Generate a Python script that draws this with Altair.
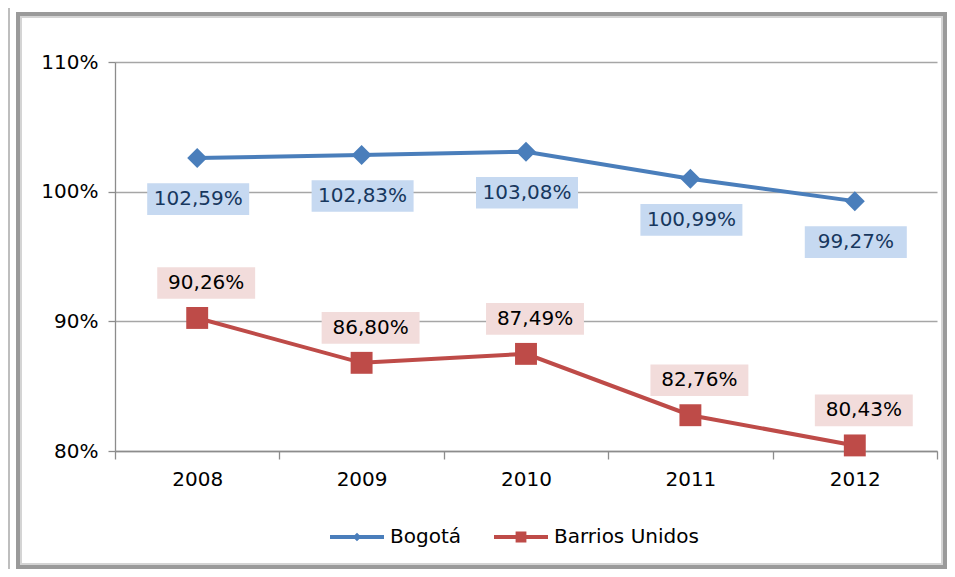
import altair as alt
import pandas as pd

# ---- data ----
years = ["2008", "2009", "2010", "2011", "2012"]
bogota = [102.59, 102.83, 103.08, 100.99, 99.27]
barrios = [90.26, 86.80, 87.49, 82.76, 80.43]
series_names = ["Bogotá", "Barrios Unidos"]
y_ticks = [80, 90, 100, 110]

rows = []
for name, vals in zip(series_names, [bogota, barrios]):
    for yr, v in zip(years, vals):
        rows.append({"year": yr, "series": name, "value": v})
df = pd.DataFrame(rows)

FONT = "DejaVu Sans"
FS = 20
BLUE = "#4a7ebb"
RED = "#be4b48"
BLUE_BOX = "#c6d9f1"
RED_BOX = "#f2dcdb"
BLUE_TXT = "#17375e"

base = alt.Chart(df).transform_calculate(
    label="replace(format(datum.value, '.2f'), '.', ',') + '%'"
)

x_enc = alt.X(
    "year:O",
    scale=alt.Scale(type="band", paddingInner=0, paddingOuter=0),
    axis=alt.Axis(title=None, tickBand="extent", labelAngle=0, grid=False,
                  tickSize=8, labelPadding=10, domainColor="#8c8c8c",
                  tickColor="#8c8c8c", domainWidth=1.3, tickWidth=1.3),
)
y_enc = alt.Y(
    "value:Q",
    scale=alt.Scale(domain=[80, 110], nice=False, zero=False),
    axis=alt.Axis(title=None, values=y_ticks, labelExpr="datum.value + '%'",
                  grid=True, gridColor="#a6a6a6", gridWidth=1.3,
                  tickSize=7, labelPadding=10, domainColor="#8c8c8c",
                  tickColor="#8c8c8c", domainWidth=1.3, tickWidth=1.3),
)

frame_df = pd.DataFrame([{"k": 1}])
outer = alt.Chart(frame_df).mark_rect(filled=False, stroke="#a9a9a9", strokeWidth=1.5).encode(
    x=alt.value(-106), x2=alt.value(900), y=alt.value(-80), y2=alt.value(600))
inner1 = alt.Chart(frame_df).mark_rect(filled=False, stroke="#9a9a9a", strokeWidth=4).encode(
    x=alt.value(-97), x2=alt.value(830), y=alt.value(-48), y2=alt.value(505))
inner2 = alt.Chart(frame_df).mark_rect(filled=False, stroke="#d4d4d4", strokeWidth=2).encode(
    x=alt.value(-94), x2=alt.value(827), y=alt.value(-45), y2=alt.value(502))


def series_layers(name, color, shape, msize, box_color, txt_color, dx, dy, box_path):
    b = base.transform_filter(alt.datum.series == name)
    line = b.mark_line(color=color, strokeWidth=4).encode(x=x_enc, y=y_enc)
    pts = b.mark_point(shape=shape, size=msize, filled=True, color=color, opacity=1,
                       strokeWidth=0).encode(x="year:O", y="value:Q")
    box = b.mark_point(shape=box_path, size=10404, filled=True, color=box_color,
                       opacity=1, strokeWidth=0, xOffset=dx, yOffset=dy).encode(
        x="year:O", y="value:Q")
    txt = b.mark_text(font=FONT, fontSize=FS, color=txt_color, dx=dx, dy=dy,
                      baseline="middle", align="center").encode(
        x="year:O", y="value:Q", text="label:N")
    return line, pts, box, txt


lb, pb, bb, tb = series_layers("Bogotá", BLUE, "diamond", 400, BLUE_BOX, BLUE_TXT, 1, 41,
                               "M-1,-0.31H1V0.31H-1Z")
lr, pr, br, tr = series_layers("Barrios Unidos", RED, "square", 480, RED_BOX, "#000000", 9, -35,
                               "M-0.96,-0.31H0.96V0.31H-0.96Z")

legend_shapes = [
    "M-1,-0.074H1V0.074H-1Z M0,-0.16L0.16,0L0,0.16L-0.16,0Z",
    "M-1,-0.074H1V0.074H-1Z M-0.2,-0.2H0.2V0.2H-0.2Z",
]
leg = dict(orient="none", legendX=215, legendY=448, direction="horizontal", title=None,
           labelFont=FONT, labelFontSize=FS, labelColor="#000000", symbolSize=2916,
           symbolStrokeWidth=0, labelOffset=6, columnPadding=33, symbolOpacity=1)
legend_layer = base.transform_filter("false").mark_point(filled=True, opacity=1).encode(
    color=alt.Color("series:N", scale=alt.Scale(domain=series_names, range=[BLUE, RED]),
                    legend=alt.Legend(**leg)),
    shape=alt.Shape("series:N", scale=alt.Scale(domain=series_names, range=legend_shapes),
                    legend=alt.Legend(**leg)),
)

chart = alt.layer(
    outer, inner1, inner2, lb, lr, pb, pr, bb, br, tb, tr, legend_layer
).properties(
    width=822, height=389,
    padding={"left": 107, "top": 54, "right": 10, "bottom": 118},
    autosize=alt.AutoSizeParams(type="none"),
    background="white",
).configure_view(stroke=None).configure_axis(
    labelFont=FONT, labelFontSize=FS, labelColor="#000000"
)

chart.save("out.html", embed_options={"renderer": "svg", "actions": False})
